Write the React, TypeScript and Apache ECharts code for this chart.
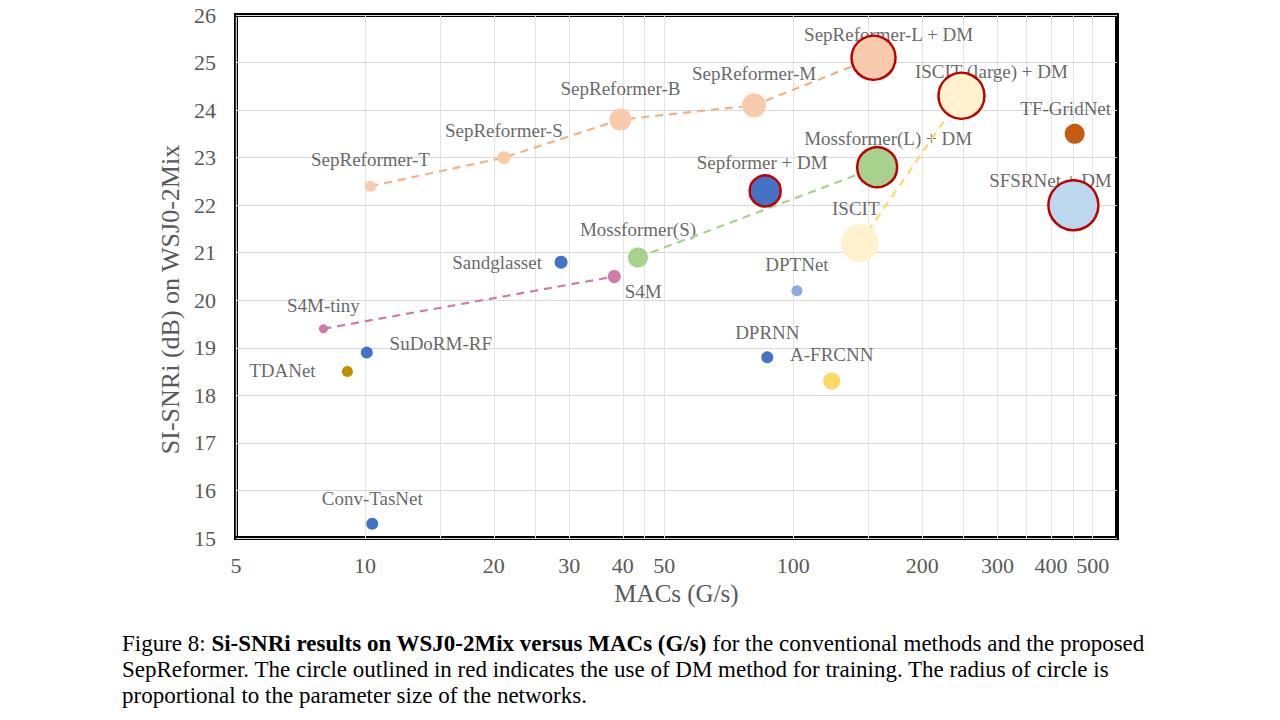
import React, { useEffect, useRef } from "react";
import * as echarts from "echarts";

// ---------- data ----------
const names = [
  "SepReformer-T", "SepReformer-S", "SepReformer-B", "SepReformer-M", "SepReformer-L + DM",
  "ISCIT (large) + DM", "TF-GridNet", "Mossformer(L) + DM", "Sepformer + DM", "SFSRNet + DM",
  "ISCIT", "Mossformer(S)", "Sandglasset", "S4M", "DPTNet",
  "S4M-tiny", "SuDoRM-RF", "TDANet", "DPRNN", "A-FRCNN", "Conv-TasNet",
];
const macs = [
  10.3, 21.1, 39.5, 81, 154,
  247, 454, 157, 86, 451,
  143, 43.4, 28.7, 38.2, 102,
  8.0, 10.1, 9.1, 87, 123, 10.4,
];
const sisnri = [
  22.4, 23.0, 23.8, 24.1, 25.1,
  24.3, 23.5, 22.8, 22.3, 22.0,
  21.2, 20.9, 20.8, 20.5, 20.2,
  19.4, 18.9, 18.5, 18.8, 18.3, 15.3,
];
// relative parameter size (bubble diameter)
const paramSize = [
  11, 13, 22, 24, 44,
  46, 20, 40, 31, 50,
  38, 20, 13, 13, 11,
  9, 12, 11, 12, 17, 12,
];
const usesDM = [
  false, false, false, false, true,
  true, false, true, true, true,
  false, false, false, false, false,
  false, false, false, false, false, false,
];
const families = [
  ["SepReformer-T", "SepReformer-S", "SepReformer-B", "SepReformer-M", "SepReformer-L + DM"],
  ["Mossformer(S)", "Mossformer(L) + DM"],
  ["ISCIT", "ISCIT (large) + DM"],
  ["S4M-tiny", "S4M"],
];
const xTickLabels = [5, 10, 20, 30, 40, 50, 100, 200, 300, 400, 500];
const xGridValues = [10, 15, 20, 25, 30, 40, 45, 50, 100, 150, 200, 250, 300, 350, 400, 450, 500];

// ---------- styles ----------
const fillColors: Record<string, string> = {
  "SepReformer-T": "#F8CBAD", "SepReformer-S": "#F8CBAD", "SepReformer-B": "#F8CBAD",
  "SepReformer-M": "#F8CBAD", "SepReformer-L + DM": "#F8CBAD",
  "ISCIT (large) + DM": "#FFF2CC", "TF-GridNet": "#C55A11", "Mossformer(L) + DM": "#A9D18E",
  "Sepformer + DM": "#4472C4", "SFSRNet + DM": "#BDD7EE", "ISCIT": "#FFF2CC",
  "Mossformer(S)": "#A9D18E", "Sandglasset": "#4472C4", "S4M": "#CF7BAA", "DPTNet": "#8FAADC",
  "S4M-tiny": "#CF7BAA", "SuDoRM-RF": "#4472C4", "TDANet": "#BF9000", "DPRNN": "#4472C4",
  "A-FRCNN": "#FFD966", "Conv-TasNet": "#4472C4",
};
const lineColors = ["#F4B183", "#A9D18E", "#FFD966", "#CF7BAA"];
const labelOffsets: Record<string, [number, number]> = {
  "SepReformer-T": [0, -27], "SepReformer-S": [0, -27], "SepReformer-B": [0, -31],
  "SepReformer-M": [0, -32], "SepReformer-L + DM": [15, -23], "ISCIT (large) + DM": [30, -24],
  "TF-GridNet": [-9, -25], "Mossformer(L) + DM": [11, -29], "Sepformer + DM": [-3, -28],
  "SFSRNet + DM": [-23, -25], "ISCIT": [-4, -35], "Mossformer(S)": [0, -28],
  "Sandglasset": [-64, 0], "S4M": [29, 15], "DPTNet": [0, -26], "S4M-tiny": [0, -23],
  "SuDoRM-RF": [74, -9], "TDANet": [-65, -1], "DPRNN": [0, -25], "A-FRCNN": [0, -27],
  "Conv-TasNet": [0, -25],
};

const SERIF = "'Liberation Serif', 'Times New Roman', serif";

export default function App() {
  const ref = useRef<HTMLDivElement>(null);
  useEffect(() => {
    if (!ref.current) return;
    const chart = echarts.init(ref.current, undefined, { renderer: "svg" });

    // text labels (drawn beneath lines and bubbles)
    const labelData = names.map((n, i) => ({
      name: n,
      value: [macs[i], sisnri[i]],
      label: {
        show: true,
        position: "inside",
        offset: labelOffsets[n],
        formatter: n,
      },
    }));

    const pointData = names.map((n, i) => ({
      name: n,
      value: [macs[i], sisnri[i]],
      symbolSize: paramSize[i],
      itemStyle: {
        color: fillColors[n],
        opacity: 1,
        borderColor: usesDM[i] ? "#C00000" : "transparent",
        borderWidth: usesDM[i] ? 2.5 : 0,
      },
    }));

    const lineSeries = families.map((fam, k) => ({
      type: "line",
      data: fam.map((n) => {
        const i = names.indexOf(n);
        return [macs[i], sisnri[i]];
      }),
      symbol: "none",
      silent: true,
      z: 2,
      lineStyle: { color: lineColors[k], width: 2.2, type: [8, 6] },
    }));

    chart.setOption({
      animation: false,
      backgroundColor: "#ffffff",
      textStyle: { fontFamily: SERIF },
      grid: {
        left: 236, right: 163, top: 15, bottom: 182,
        show: true, borderColor: "#000", borderWidth: 4, backgroundColor: "transparent",
      },
      xAxis: {
        type: "log",
        logBase: 10,
        min: 5,
        max: 570,
        name: "MACs (G/s)",
        nameLocation: "middle",
        nameGap: 39,
        nameTextStyle: { fontSize: 25, color: "#595959", fontFamily: SERIF },
        axisLine: { show: false },
        axisTick: { show: false, customValues: xGridValues },
        axisLabel: {
          customValues: xTickLabels,
          fontSize: 22,
          color: "#595959",
          fontFamily: SERIF,
          margin: 16,
          formatter: (v: number) => String(Math.round(v)),
        },
        splitLine: { show: true, lineStyle: { color: "#E3E3E3", width: 1 } },
        minorSplitLine: { show: false },
      },
      yAxis: {
        type: "value",
        min: 15,
        max: 26,
        interval: 1,
        name: "SI-SNRi (dB) on WSJ0-2Mix",
        nameLocation: "middle",
        nameGap: 53,
        nameTextStyle: { fontSize: 26, color: "#595959", fontFamily: SERIF, padding: [0, 46, 0, 0] },
        axisLine: { show: false },
        axisTick: { show: false },
        axisLabel: { fontSize: 22, color: "#595959", fontFamily: SERIF, margin: 20 },
        splitLine: { show: true, lineStyle: { color: "#D9D9D9", width: 1 } },
      },
      series: [
        {
          type: "scatter",
          z: 1,
          silent: true,
          symbolSize: 1,
          itemStyle: { color: "rgba(0,0,0,0)" },
          data: labelData,
          label: { fontSize: 19, color: "#404040", fontFamily: SERIF },
          emphasis: { disabled: true },
        },
        ...lineSeries,
        {
          type: "scatter",
          z: 3,
          data: pointData,
          emphasis: { disabled: true },
        },
      ],
      graphic: [
        {
          type: "line",
          silent: true,
          z: 100,
          shape: { x1: 236.3, y1: 17, x2: 236.3, y2: 536 },
          style: { stroke: "#ffffff", lineWidth: 1 },
        },
        {
          type: "text",
          x: 122,
          y: 630,
          style: {
            text:
              "{n|Figure 8: }{b|Si-SNRi results on WSJ0-2Mix versus MACs (G/s)}{n| for the conventional methods and the proposed}\n" +
              "{n|SepReformer. The circle outlined in red indicates the use of DM method for training. The radius of circle is}\n" +
              "{n|proportional to the parameter size of the networks.}",
            fill: "#000",
            font: `23px ${SERIF}`,
            lineHeight: 26,
            rich: {
              n: { fontSize: 23, fontFamily: SERIF, fill: "#000", lineHeight: 26 },
              b: { fontSize: 23, fontFamily: SERIF, fontWeight: "bold", fill: "#000", lineHeight: 26 },
            },
          },
        },
      ],
    });
    return () => chart.dispose();
  }, []);
  return <div ref={ref} style={{ width: 1280, height: 720, position: "absolute", left: 0, top: 0 }} />;
}
